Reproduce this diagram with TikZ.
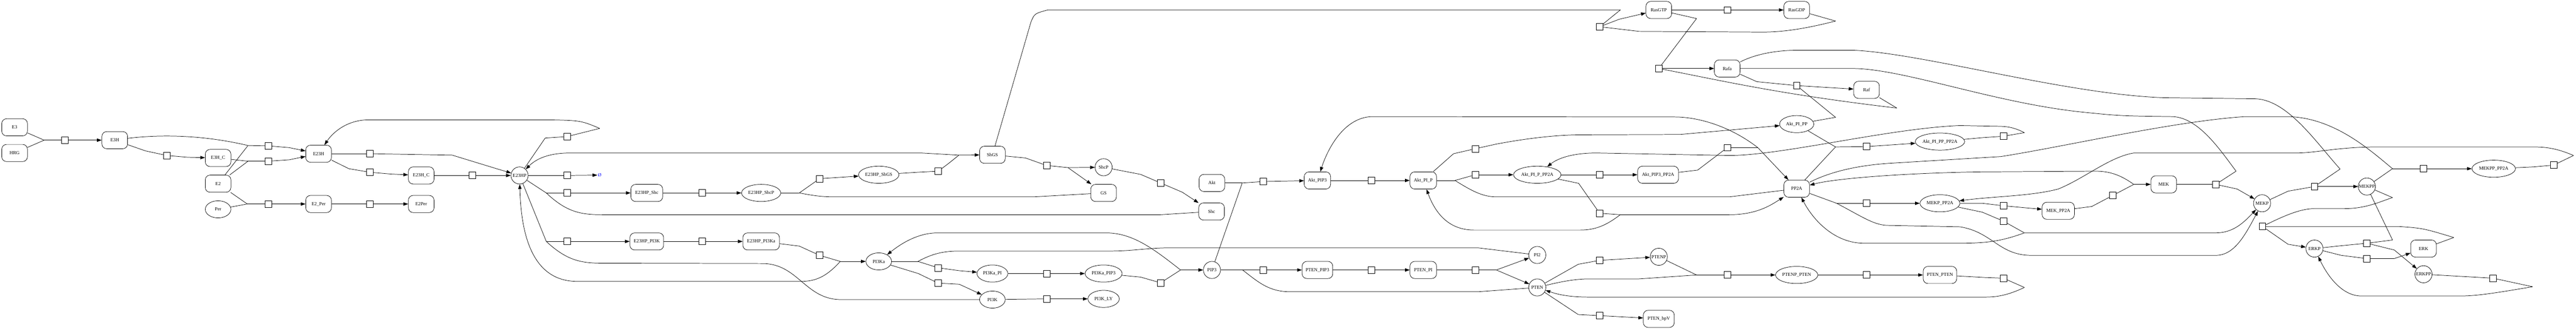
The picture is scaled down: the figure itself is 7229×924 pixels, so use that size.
\documentclass[tikz,border=0pt]{standalone}
\usepackage{fontspec}
\setmainfont{Liberation Serif}
\usetikzlibrary{arrows.meta,shapes.geometric}
\newcommand{\nlbl}[1]{\makebox[0pt]{#1}}
\begin{document}
\begin{tikzpicture}[x=0.75pt,y=-0.75pt,
  every node/.style={font=\fontsize{10}{12}\selectfont},
  line width=0.8pt,
  pbox/.style={draw, rounded corners=10pt, minimum height=36pt, inner sep=0pt, minimum width=#1},
  pbox/.default=54pt,
  pell/.style={draw, ellipse, minimum height=36pt, inner sep=0pt, minimum width=#1},
  pell/.default=54pt,
  pcirc/.style={draw, ellipse, minimum height=36pt, minimum width=36pt, inner sep=0pt},
  trn/.style={draw, rectangle, minimum size=14pt, inner sep=0pt, fill=white},
  ar/.style={-{Triangle[length=10pt,width=7pt]}}
]
\useasboundingbox (0,0) rectangle (7229,924);
% places
\node[pbox] (E3) at (41,357) {E3};
\node[pbox] (HRG) at (41,429) {HRG};
\node[pbox] (E3H) at (322,393) {E3H};
\node[pbox] (E3H_C) at (612,443) {E3H\_C};
\node[pbox] (E2) at (612,515) {E2};
\node[pell] (Per) at (612,587) {Per};
\node[pbox] (E23H) at (894,431) {E23H};
\node[pbox] (E23H_C) at (1182,492) {E23H\_C};
\node[pbox] (E2_Per) at (894,572) {E2\_Per};
\node[pbox] (E2Per) at (1182,572) {E2Per};
\node[pcirc] (E23HP) at (1458,492) {\nlbl{E23HP}};
\node[text=blue, inner sep=1pt] (phi) at (1683,491) {Ø};
\node[pbox=67pt] (E23HP_Shc) at (1815,541) {E23HP\_Shc};
\node[pbox=71pt] (E23HP_PI3K) at (1815,677) {E23HP\_PI3K};
\node[pell=82.5pt] (E23HP_ShcP) at (2136,541) {E23HP\_ShcP};
\node[pbox=77pt] (E23HP_PI3Ka) at (2136,677) {E23HP\_PI3Ka};
\node[pell=85pt] (E23HP_ShGS) at (2466,490) {E23HP\_ShGS};
\node[pell] (PI3Ka) at (2466,733) {PI3Ka};
\node[pbox] (ShGS) at (2785,434) {ShGS};
\node[pell=65pt] (PI3Ka_PI) at (2785,767) {PI3Ka\_PI};
\node[pell] (PI3K) at (2785,840) {PI3K};
\node[pcirc] (ShcP) at (3097,469) {\nlbl{ShcP}};
\node[pbox] (GS) at (3097,541) {GS};
\node[pell=78pt] (PI3Ka_PIP3) at (3097,767) {PI3Ka\_PIP3};
\node[pell=66pt] (PI3K_LY) at (3097,838) {PI3K\_LY};
\node[pbox] (Akt) at (3401,513) {Akt};
\node[pbox] (Shc) at (3400,593) {Shc};
\node[pcirc] (PIP3) at (3401,757) {\nlbl{PIP3}};
\node[pbox=55.5pt] (Akt_PIP3) at (3697,506) {Akt\_PIP3};
\node[pbox=64.5pt] (PTEN_PIP3) at (3697,757) {PTEN\_PIP3};
\node[pbox=56pt] (Akt_PI_P) at (3994,506) {Akt\_PI\_P};
\node[pbox=56pt] (PTEN_PI) at (3994,757) {PTEN\_PI};
\node[pell=100pt] (Akt_PI_P_PP2A) at (4314,490) {Akt\_PI\_P\_PP2A};
\node[pcirc] (PI2) at (4314,715) {\nlbl{PI2}};
\node[pcirc] (PTEN) at (4314,806) {\nlbl{PTEN}};
\node[pbox] (RasGTP) at (4655,28) {RasGTP};
\node[pbox] (Rafa) at (4847,192) {Rafa};
\node[pbox=86pt] (Akt_PIP3_PP2A) at (4653,490) {Akt\_PIP3\_PP2A};
\node[pcirc] (PTENP) at (4655,720) {\nlbl{PTENP}};
\node[pbox=65pt] (PTEN_bpV) at (4655,894) {PTEN\_bpV};
\node[pbox] (RasGDP) at (5042,28) {RasGDP};
\node[pell=72pt] (Akt_PI_PP) at (5042,348) {Akt\_PI\_PP};
\node[pbox] (PP2A) at (5042,529) {PP2A};
\node[pell=89pt] (PTENP_PTEN) at (5042,771) {PTENP\_PTEN};
\node[pbox] (Raf) at (5238,252) {Raf};
\node[pell=104pt] (Akt_PI_PP_PP2A) at (5444,397) {Akt\_PI\_PP\_PP2A};
\node[pell=84pt] (MEKP_PP2A) at (5444,570) {MEKP\_PP2A};
\node[pbox=70.5pt] (PTEN_PTEN) at (5444,771) {PTEN\_PTEN};
\node[pbox=68pt] (MEK_PP2A) at (5776,591) {MEK\_PP2A};
\node[pbox] (MEK) at (6072,517) {MEK};
\node[pcirc] (MEKP) at (6348,570) {\nlbl{MEKP}};
\node[pcirc] (MEKPP) at (6642,523) {\nlbl{MEKPP}};
\node[pell=91.5pt] (MEKPP_PP2A) at (6998,473) {MEKPP\_PP2A};
\node[pcirc] (ERKP) at (6495,697) {\nlbl{ERKP}};
\node[pbox] (ERK) at (6801,697) {ERK};
\node[pcirc] (ERKPP) at (6801,769) {\nlbl{ERKPP}};
% transitions
\node[trn] (t1) at (182,393) {};
\node[trn] (t2) at (468,436) {};
\node[trn] (t3) at (753,409) {};
\node[trn] (t4) at (753,452) {};
\node[trn] (t5) at (753,572) {};
\node[trn] (t6) at (1038,431) {};
\node[trn] (t7) at (1038,483) {};
\node[trn] (t8) at (1038,572) {};
\node[trn] (t9) at (1326,492) {};
\node[trn] (t10) at (1591,383) {};
\node[trn] (t11) at (1591,492) {};
\node[trn] (t12) at (1591,541) {};
\node[trn] (t13) at (1591,677) {};
\node[trn] (t14) at (1971,541) {};
\node[trn] (t15) at (1971,677) {};
\node[trn] (t16) at (2300,501) {};
\node[trn] (t17) at (2300,716) {};
\node[trn] (t18) at (2633,480) {};
\node[trn] (t19) at (2633,751) {};
\node[trn] (t20) at (2633,794) {};
\node[trn] (t21) at (2937,464) {};
\node[trn] (t22) at (2937,767) {};
\node[trn] (t23) at (2937,838) {};
\node[trn] (t24) at (3257,513) {};
\node[trn] (t25) at (3257,793) {};
\node[trn] (t26) at (3545,509) {};
\node[trn] (t27) at (3545,757) {};
\node[trn] (t28) at (3849,506) {};
\node[trn] (t29) at (3849,757) {};
\node[trn] (t30) at (4140,417) {};
\node[trn] (t31) at (4140,490) {};
\node[trn] (t32) at (4140,757) {};
\node[trn] (t33) at (4489,75) {};
\node[trn] (t34) at (4489,490) {};
\node[trn] (t35) at (4489,598) {};
\node[trn] (t36) at (4489,730) {};
\node[trn] (t37) at (4489,885) {};
\node[trn] (t38) at (4655,192) {};
\node[trn] (t39) at (4847,28) {};
\node[trn] (t40) at (4847,414) {};
\node[trn] (t41) at (4847,771) {};
\node[trn] (t42) at (5042,240) {};
\node[trn] (t43) at (5238,411) {};
\node[trn] (t44) at (5238,570) {};
\node[trn] (t45) at (5238,771) {};
\node[trn] (t46) at (5622,382) {};
\node[trn] (t47) at (5622,577) {};
\node[trn] (t48) at (5622,620) {};
\node[trn] (t49) at (5622,780) {};
\node[trn] (t50) at (5929,548) {};
\node[trn] (t51) at (6218,517) {};
\node[trn] (t52) at (6349,635) {};
\node[trn] (t53) at (6495,523) {};
\node[trn] (t54) at (6642,682) {};
\node[trn] (t55) at (6642,725) {};
\node[trn] (t56) at (6801,473) {};
\node[trn] (t57) at (6996,780) {};
\node[trn] (t58) at (7166,463) {};
% junctions
\coordinate (j1) at (124,393);
\coordinate (j3) at (696,408);
\coordinate (j4) at (696,452);
\coordinate (j5) at (694,572);
\coordinate (j10) at (1683,360);
\coordinate (j12) at (1533,541);
\coordinate (j13) at (1533,677);
\coordinate (j16) at (2243,541);
\coordinate (j17) at (2358,733);
\coordinate (j18) at (2691,435);
\coordinate (j19) at (2576,733);
\coordinate (j21) at (2997,470);
\coordinate (j25) at (3313,757);
\coordinate (j26) at (3486,513);
\coordinate (j27) at (3487,757);
\coordinate (j31) at (4083,506);
\coordinate (j32) at (4199,757);
\coordinate (j33) at (4547,28);
\coordinate (j33b) at (5151,59);
\coordinate (j35) at (4547,602);
\coordinate (j38) at (4761,52);
\coordinate (j38b) at (5323,303);
\coordinate (j40) at (4933,414);
\coordinate (j41) at (4761,771);
\coordinate (j42) at (5151,329);
\coordinate (j43) at (5151,412);
\coordinate (j44) at (5154,570);
\coordinate (j46) at (5681,372);
\coordinate (j48) at (5681,653);
\coordinate (j49) at (5681,806);
\coordinate (j50) at (5988,517);
\coordinate (j51) at (6275,480);
\coordinate (j52a) at (6714,554);
\coordinate (j52b) at (6886,666);
\coordinate (j53) at (6567,474);
\coordinate (j54) at (6714,673);
\coordinate (j56) at (6714,473);
\coordinate (j57) at (7107,804);
\coordinate (j58) at (7222,436);
% edges: left part
\draw (E3) -- (j1);
\draw (HRG) -- (j1);
\draw (j1) -- (t1);
\draw[ar] (t1) -- (E3H);
\draw (E3H) -- (408,423) -- (t2);
\draw[ar] (t2) -- (527,441) -- (E3H_C);
\draw (E3H.8) .. controls (440,378) and (560,376) .. (j3);
\draw (E2) -- (j3);
\draw (j3) -- (t3);
\draw[ar] (t3) -- (812,414) -- (E23H);
\draw (E3H_C) -- (j4);
\draw (E2) -- (j4);
\draw (j4) -- (t4);
\draw[ar] (t4) -- (812,448) -- (E23H);
\draw (E2) -- (j5);
\draw (Per) -- (j5);
\draw (j5) -- (t5);
\draw[ar] (t5) -- (E2_Per);
\draw (E23H) -- (t6);
\draw[ar] (t6) -- (1269,435) -- (1400,475) -- (E23HP);
\draw (E23H) -- (979,473) -- (t7);
\draw[ar] (t7) -- (1097,488) -- (E23H_C);
\draw (E2_Per) -- (t8);
\draw[ar] (t8) -- (E2Per);
\draw (E23H_C) -- (t9);
\draw[ar] (t9) -- (E23HP);
% E23HP part
\draw (E23HP) -- (1530,387) -- (t10);
\draw (t10) -- (j10);
\draw[ar] (j10) .. controls (1630,338) .. (1543,336) -- (1035,336) .. controls (975,336) and (935,370) .. (E23H);
\draw (E23HP) -- (t11);
\draw[ar] (t11) -- (phi);
\draw (E23HP) -- (j12);
\draw (j12) -- (t12);
\draw[ar] (t12) -- (E23HP_Shc);
\draw (j12) .. controls (1590,595) and (1630,602) .. (1690,602) -- (3257,602) -- (Shc);
\draw (E23HP) -- (j13);
\draw (j13) -- (t13);
\draw[ar] (t13) -- (E23HP_PI3K);
\draw (j13) .. controls (1590,730) and (1630,738) .. (1690,738) -- (2141,739) .. controls (2240,740) and (2260,840) .. (2360,840) -- (PI3K);
\draw (E23HP_Shc) -- (t14);
\draw[ar] (t14) -- (E23HP_ShcP);
\draw (E23HP_PI3K) -- (t15);
\draw[ar] (t15) -- (E23HP_PI3Ka);
\draw (E23HP_ShcP) -- (j16);
\draw (j16) -- (t16);
\draw[ar] (t16) -- (E23HP_ShGS);
\draw (j16) .. controls (2290,550) and (2310,552) .. (2345,552) -- (2900,552) -- (GS);
\draw (E23HP_PI3Ka) -- (2243,690) -- (t17);
\draw (t17) -- (j17);
\draw[ar] (j17) -- (PI3Ka);
\draw[ar] (j17) .. controls (2320,775) and (2290,789) .. (2248,789) -- (1620,789) .. controls (1490,789) and (1462,650) .. (E23HP);
\draw (E23HP_ShGS) -- (2575,483) -- (t18);
\draw (t18) -- (2661,459) -- (j18);
\draw[ar] (j18) -- (ShGS);
\draw[ar] (j18) -- (2585,429) -- (1600,429) .. controls (1540,429) and (1505,445) .. (E23HP);
\draw (PI3Ka) -- (j19);
\draw (j19) -- (t19);
\draw[ar] (t19) -- (2692,759) -- (PI3Ka_PI);
\draw (j19) .. controls (2610,715) and (2640,704) .. (2690,704) -- (3114,704) .. controls (3180,704) and (3220,695) .. (3283,695) -- (4148,695) -- (PI2);
\draw (PI3Ka) -- (2577,767) -- (t20);
\draw[ar] (t20) -- (2692,797) -- (PI3K);
\draw (ShGS) -- (2878,443) -- (t21);
\draw (t21) -- (j21);
\draw[ar] (j21) -- (ShcP);
\draw[ar] (j21) -- (GS);
\draw (PI3Ka_PI) -- (t22);
\draw[ar] (t22) -- (PI3Ka_PIP3);
\draw (PI3K) -- (t23);
\draw[ar] (t23) -- (PI3K_LY);
\draw (ShcP) -- (3201,489) -- (t24);
\draw[ar] (t24) -- (3318,539) -- (Shc);
\draw (PI3Ka_PIP3) -- (3201,777) -- (t25);
\draw (t25) -- (j25);
\draw[ar] (j25) -- (PIP3);
\draw[ar] (j25) .. controls (3240,700) and (3180,653) .. (3104,653) -- (2631,653) .. controls (2570,653) and (2520,690) .. (PI3Ka);
\draw (Akt) -- (j26);
\draw (PIP3) -- (j26);
\draw (j26) -- (t26);
\draw[ar] (t26) -- (Akt_PIP3);
\draw (PIP3) -- (j27);
\draw (j27) -- (t27);
\draw[ar] (t27) -- (PTEN_PIP3);
\draw (j27) .. controls (3530,790) and (3560,818) .. (3620,818) -- (4148,818) -- (PTEN);
\draw (Akt_PIP3) -- (t28);
\draw[ar] (t28) -- (Akt_PI_P);
\draw (PTEN_PIP3) -- (t29);
\draw[ar] (t29) -- (PTEN_PI);
\draw (Akt_PI_P) -- (4079,431) -- (t30);
\draw[ar] (t30) -- (4199,404) .. controls (4300,385) and (4380,378) .. (4440,378) -- (4715,377) -- (Akt_PI_PP);
\draw (Akt_PI_P) -- (j31);
\draw (j31) -- (t31);
\draw[ar] (t31) -- (Akt_PI_P_PP2A);
\draw (j31) .. controls (4130,535) and (4160,552) .. (4200,552) -- (4853,552) -- (PP2A);
\draw (PTEN_PI) -- (t32);
\draw (t32) -- (j32);
\draw[ar] (j32) -- (PI2);
\draw[ar] (j32) -- (PTEN);
% Ras / Raf part
\draw (ShGS) -- (2893,62) .. controls (2903,38) .. (2940,28) -- (j33) -- (t33);
\draw (RasGDP) -- (j33b);
\draw (j33b) .. controls (5050,85) and (4990,90) .. (4944,90) -- (4600,88) -- (t33);
\draw[ar] (t33) -- (4544,54) -- (RasGTP);
\draw (Akt_PI_P_PP2A) -- (t34);
\draw[ar] (t34) -- (Akt_PIP3_PP2A);
\draw (Akt_PI_P_PP2A) -- (4430,514) -- (t35);
\draw (t35) -- (j35);
\draw[ar] (j35) .. controls (4510,630) and (4480,645) .. (4435,645) -- (4136,645) .. controls (4060,645) and (4025,590) .. (Akt_PI_P);
\draw[ar] (j35) -- (4853,602) .. controls (4930,602) and (4970,575) .. (PP2A);
\draw (PTEN) -- (4429,741) -- (t36);
\draw[ar] (t36) -- (PTENP);
\draw (PTEN) -- (4429,882) -- (t37);
\draw[ar] (t37) -- (PTEN_bpV);
\draw (RasGTP) -- (j38) -- (t38);
\draw (Raf) -- (j38b);
\draw (j38b) .. controls (5000,265) and (4850,230) .. (t38);
\draw[ar] (t38) -- (Rafa);
\draw (RasGTP) -- (t39);
\draw[ar] (t39) -- (RasGDP);
\draw (Akt_PIP3_PP2A) -- (4764,477) -- (t40);
\draw (t40) -- (j40);
\draw[ar] (j40) -- (PP2A);
\draw[ar] (j40) .. controls (4850,350) and (4760,328) .. (4700,328) -- (3849,327) .. controls (3770,330) and (3725,420) .. (Akt_PIP3);
\draw (PTENP) -- (j41);
\draw (PTEN) .. controls (4380,790) and (4420,782) .. (4460,782) -- (4600,782) -- (j41);
\draw (j41) -- (t41);
\draw[ar] (t41) -- (PTENP_PTEN);
\draw (Rafa) -- (4930,229) -- (t42);
\draw[ar] (t42) -- (Raf);
\draw (Akt_PI_PP) -- (j42) -- (t42);
\draw (Akt_PI_PP) -- (j43);
\draw (PP2A) -- (j43);
\draw (j43) -- (t43);
\draw[ar] (t43) -- (Akt_PI_PP_PP2A);
\draw (PP2A) -- (j44);
\draw (j44) -- (t44);
\draw[ar] (t44) -- (MEKP_PP2A);
\draw[ar] (j44) .. controls (5230,610) and (5260,632) .. (5300,632) -- (5500,636) .. controls (5590,650) and (5610,716) .. (5700,716) -- (6218,716) .. controls (6270,716) and (6300,660) .. (MEKP);
\draw (PTENP_PTEN) -- (t45);
\draw[ar] (t45) -- (PTEN_PTEN);
\draw (Akt_PI_PP_PP2A) -- (5563,386) -- (t46);
\draw (t46) -- (j46);
\draw[ar] (j46) .. controls (5650,356) and (5630,354) .. (5600,354) -- (5500,352) .. controls (5300,360) and (5000,436) .. (4853,436) -- (4480,429) .. controls (4410,429) and (4370,445) .. (Akt_PI_P_PP2A);
\draw (MEKP_PP2A) -- (5563,570) -- (t47);
\draw[ar] (t47) -- (MEK_PP2A);
\draw (MEKP_PP2A) -- (5563,595) -- (t48);
\draw (t48) -- (j48);
\draw[ar] (j48) -- (6218,653) .. controls (6270,653) and (6300,620) .. (MEKP);
\draw[ar] (j48) .. controls (5620,675) and (5580,682) .. (5500,682) -- (5231,682) .. controls (5150,682) and (5090,620) .. (PP2A);
\draw (PTEN_PTEN) -- (5569,778) -- (t49);
\draw (t49) -- (j49);
\draw[ar] (j49) .. controls (5630,830) and (5600,833) .. (5569,833) -- (4460,833) .. controls (4400,833) and (4370,825) .. (PTEN);
\draw (MEK_PP2A) -- (5870,579) -- (t50);
\draw (t50) -- (j50);
\draw[ar] (j50) -- (MEK);
\draw[ar] (j50) .. controls (5950,490) and (5920,480) .. (5880,480) -- (5557,482) .. controls (5350,485) and (5150,500) .. (PP2A);
% MEK / ERK part
\draw (MEK) -- (t51);
\draw[ar] (t51) -- (6278,530) -- (MEKP);
\draw (t51) -- (j51);
\draw (Rafa) -- (5203,192) .. controls (5350,195) and (5600,290) .. (5850,315) .. controls (5950,325) .. (6097,327) .. controls (6170,330) and (6230,420) .. (j51);
\draw (Rafa) .. controls (4930,150) and (4990,141) .. (5042,141) -- (5203,141) .. controls (5400,150) and (5800,265) .. (6074,274) -- (6329,277) .. controls (6420,280) and (6500,400) .. (j53);
\draw (MEKP) -- (6421,536) -- (t53);
\draw[ar] (t53) -- (MEKPP);
\draw (t53) -- (j53);
\draw (MEKPP) -- (j52a);
\draw (t52) .. controls (6420,600) and (6460,585) .. (6495,585) -- (6579,585) .. controls (6640,585) and (6680,565) .. (j52a);
\draw (t52) -- (6731,635) .. controls (6800,640) .. (j52b);
\draw (ERK) -- (j52b);
\draw[ar] (t52) -- (6421,685) -- (ERKP);
\draw (MEKPP) -- (j54);
\draw (ERKP) -- (6570,689) -- (t54);
\draw (t54) -- (j54);
\draw[ar] (t54) -- (6719,701) -- (ERKPP);
\draw (ERKP) -- (6570,716) -- (t55);
\draw[ar] (t55) -- (6719,725) -- (ERK);
\draw (MEKPP) -- (j56);
\draw (j56) -- (t56);
\draw[ar] (t56) -- (MEKPP_PP2A);
\draw (PP2A) .. controls (5130,485) and (5200,465) .. (5300,458) -- (5615,439) .. controls (5800,410) and (6100,340) .. (6300,327) -- (6421,327) .. controls (6550,330) and (6650,420) .. (j56);
\draw (ERKPP) -- (t57);
\draw (t57) -- (j57);
\draw[ar] (j57) .. controls (7000,822) and (6950,830) .. (6903,830) -- (6627,830) .. controls (6570,830) and (6530,770) .. (ERKP);
\draw (MEKPP_PP2A) -- (7110,468) -- (t58);
\draw (t58) -- (j58);
\draw[ar] (j58) .. controls (7180,418) and (7150,412) .. (7110,412) -- (6673,412) .. controls (6560,412) and (6500,429) .. (6444,429) -- (5988,429) .. controls (5920,440) and (5850,500) .. (5776,530) .. controls (5700,550) and (5600,550) .. (MEKP_PP2A);
\end{tikzpicture}
\end{document}
